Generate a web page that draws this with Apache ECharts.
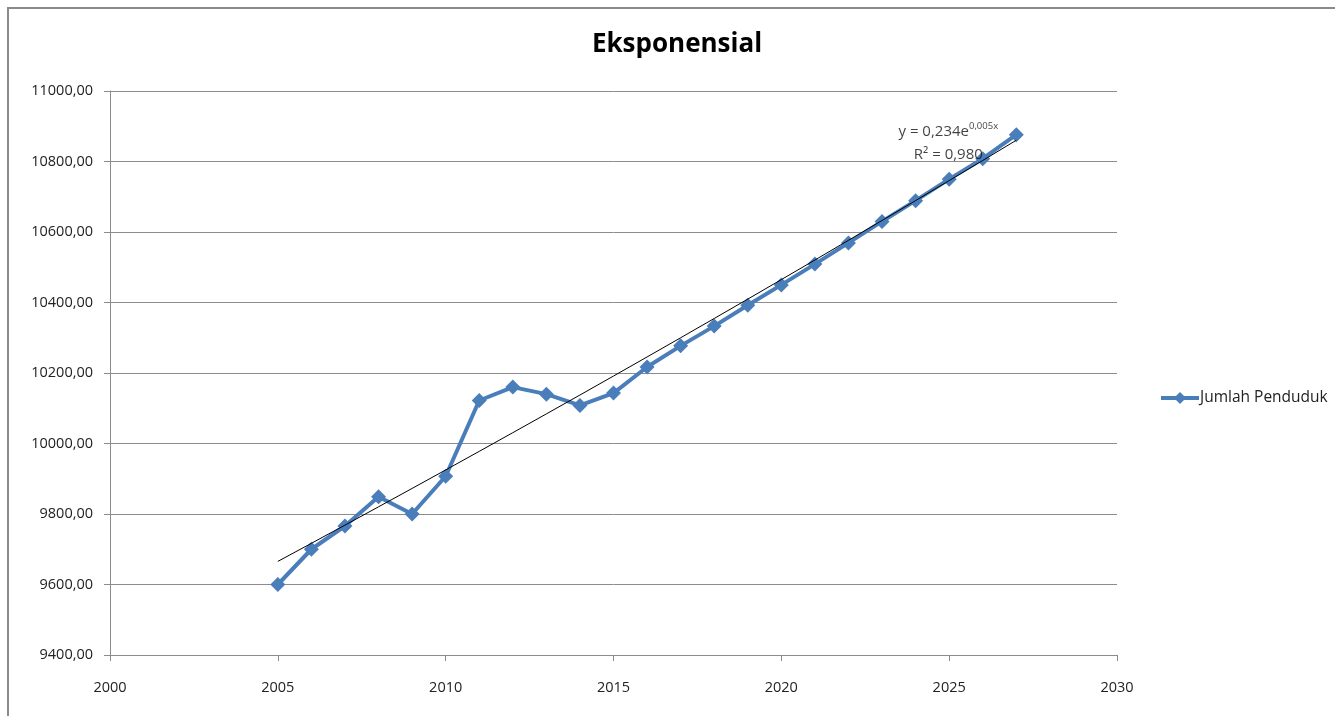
<!DOCTYPE html>
<html>
<head>
<meta charset="utf-8">
<script src="https://cdn.jsdelivr.net/npm/echarts@6/dist/echarts.min.js"></script>
<style>
  html, body { margin: 0; padding: 0; background: #fff; }
  #frame { position: absolute; left: 7px; top: 7px; width: 1340px; height: 720px; border-left: 2px solid #8a8a8a; border-top: 2px solid #8a8a8a; }
  #chart { position: absolute; left: 0; top: 0; width: 1335px; height: 716px; }
</style>
</head>
<body>
<div id="frame"></div>
<div id="chart"></div>
<script>
// Population by year
const years = [2005, 2006, 2007, 2008, 2009, 2010, 2011, 2012, 2013, 2014, 2015, 2016,
               2017, 2018, 2019, 2020, 2021, 2022, 2023, 2024, 2025, 2026, 2027];
const jumlahPenduduk = [9600, 9700, 9766, 9849, 9800, 9907, 10122, 10160, 10140, 10108, 10143, 10217,
                        10277, 10333, 10392, 10450, 10509, 10569, 10630, 10689, 10750, 10808, 10876];
const seriesName = 'Jumlah Penduduk';
const titleText = 'Eksponensial';
const equationText = ['y = 0,234e', '0,005x'];
const r2Text = 'R² = 0,980';

// Exponential trendline: least-squares fit of ln(y) on x
function expFit(xs, ys) {
  const n = xs.length;
  const x0 = xs[0];
  let sx = 0, sy = 0, sxx = 0, sxy = 0;
  for (let i = 0; i < n; i++) {
    const x = xs[i] - x0, l = Math.log(ys[i]);
    sx += x; sy += l; sxx += x * x; sxy += x * l;
  }
  const b = (n * sxy - sx * sy) / (n * sxx - sx * sx);
  const a = (sy - b * sx) / n;
  return x => Math.exp(a + b * (x - x0));
}
const trend = expFit(years, jumlahPenduduk);
const trendData = years.map(x => [x, trend(x)]);
const lastYear = years[years.length - 1];

const font = '"Open Sans", "Noto Sans", sans-serif';
const chart = echarts.init(document.getElementById('chart'));
chart.setOption({
  animation: false,
  backgroundColor: 'transparent',
  title: {
    text: titleText,
    left: 672, top: 27, textAlign: 'center',
    textStyle: { fontFamily: font, fontSize: 26, fontWeight: 'bold', color: '#000' }
  },
  legend: {
    data: [seriesName],
    left: 1154, top: 385, itemWidth: 38, itemHeight: 15, itemGap: 2,
    lineStyle: { width: 4 },
    textStyle: { fontFamily: font, fontSize: 15.5, color: '#222', padding: [0, 0, 0, -4] }
  },
  grid: { left: 110, right: 218, top: 91, bottom: 61 },
  xAxis: {
    type: 'value', min: 2000, max: 2030, interval: 5,
    axisLine: { show: true, lineStyle: { color: '#8c8c8c', width: 1 } },
    axisTick: { show: true, length: 6, lineStyle: { color: '#8c8c8c' } },
    axisLabel: { fontFamily: font, fontSize: 14.5, color: '#222', margin: 25, formatter: v => String(v) },
    splitLine: { show: false }
  },
  yAxis: {
    type: 'value', min: 9400, max: 11000, interval: 200,
    axisLine: { show: true, lineStyle: { color: '#8c8c8c', width: 1 } },
    axisTick: { show: true, length: 6, lineStyle: { color: '#8c8c8c' } },
    axisLabel: {
      fontFamily: font, fontSize: 14.5, color: '#222', margin: 17,
      formatter: v => v.toFixed(2).replace('.', ',')
    },
    splitLine: { show: true, lineStyle: { color: '#8c8c8c', width: 1 } }
  },
  series: [
    {
      name: seriesName,
      type: 'line',
      data: years.map((y, i) => [y, jumlahPenduduk[i]]),
      symbol: 'diamond', symbolSize: 15,
      lineStyle: { color: '#4a7ebb', width: 4 },
      itemStyle: { color: '#4a7ebb' },
      z: 2
    },
    {
      name: 'trend',
      type: 'line',
      data: trendData,
      symbol: 'none',
      lineStyle: { color: '#000', width: 1 },
      z: 3,
      silent: true
    },
    {
      // trendline equation and R² label
      name: 'trendLabel',
      type: 'scatter',
      data: [[lastYear, trend(lastYear)]],
      symbol: 'circle', symbolSize: 0,
      silent: true,
      z: 4,
      label: {
        show: true, position: 'left', distance: 0, offset: [-68, 3],
        align: 'center', verticalAlign: 'middle',
        formatter: '{a|' + equationText[0] + '}{s|' + equationText[1] + '}\n{a|' + r2Text + '}',
        rich: {
          a: { fontFamily: font, fontSize: 15, color: '#111', lineHeight: 23 },
          s: { fontFamily: font, fontSize: 9.5, color: '#111', lineHeight: 23, padding: [0, 0, 10, 0] }
        }
      }
    }
  ]
});
</script>
</body>
</html>
